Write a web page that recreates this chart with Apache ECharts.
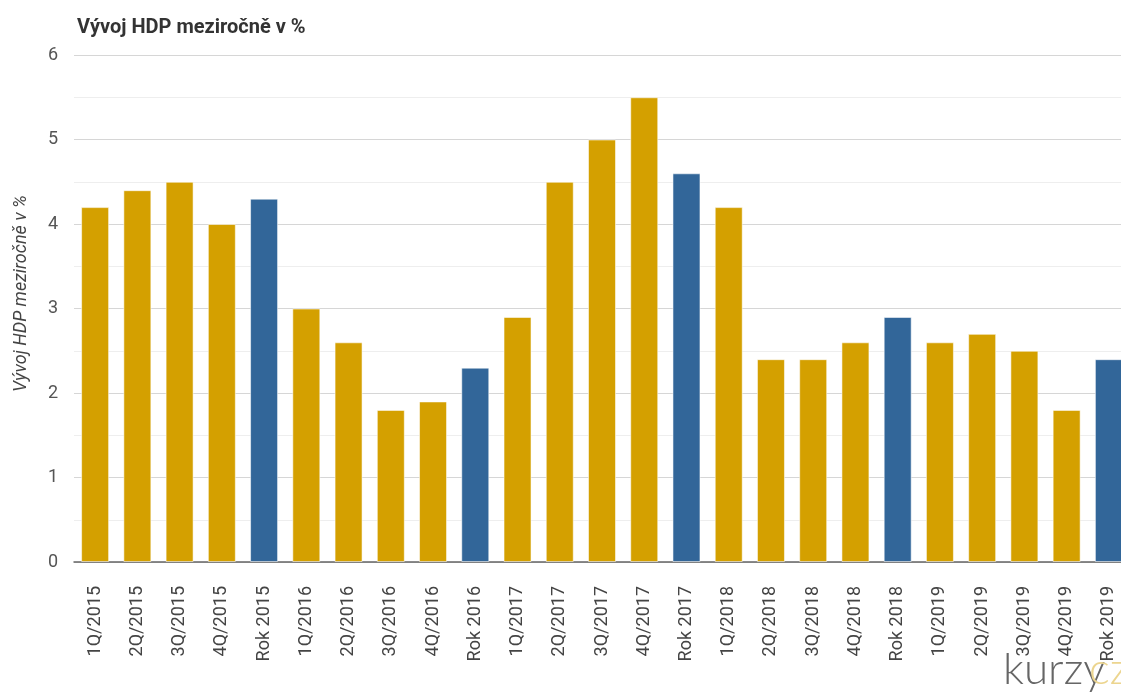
<!DOCTYPE html>
<html>
<head>
<meta charset="utf-8">
<script src="https://cdn.jsdelivr.net/npm/echarts@6/dist/echarts.min.js"></script>
<style>
  html, body { margin: 0; padding: 0; background: #fff; }
  #chart { width: 1121px; height: 693px; }
</style>
</head>
<body>
<div id="chart"></div>
<script>
var categories = [
    '1Q/2015', '2Q/2015', '3Q/2015', '4Q/2015', 'Rok 2015',
    '1Q/2016', '2Q/2016', '3Q/2016', '4Q/2016', 'Rok 2016',
    '1Q/2017', '2Q/2017', '3Q/2017', '4Q/2017', 'Rok 2017',
    '1Q/2018', '2Q/2018', '3Q/2018', '4Q/2018', 'Rok 2018',
    '1Q/2019', '2Q/2019', '3Q/2019', '4Q/2019', 'Rok 2019'
];
var values = [
    4.2, 4.4, 4.5, 4.0, 4.3,
    3.0, 2.6, 1.8, 1.9, 2.3,
    2.9, 4.5, 5.0, 5.5, 4.6,
    4.2, 2.4, 2.4, 2.6, 2.9,
    2.6, 2.7, 2.5, 1.8, 2.4
];
var titleText = 'Vývoj HDP meziročně v %';
var axisName = 'Vývoj HDP meziročně v %';

var quarterColor = '#d4a000';
var yearColor = '#326699';

var barData = values.map(function (v, i) {
    var isYear = categories[i].indexOf('Rok') === 0;
    return { value: v, itemStyle: { color: isYear ? yearColor : quarterColor } };
});

var chart = echarts.init(document.getElementById('chart'));

var option = {
    animation: false,
    textStyle: { fontFamily: 'Roboto, "Noto Sans", sans-serif' },
    title: {
        text: titleText,
        left: 72,
        top: 13,
        textStyle: { fontSize: 20, fontWeight: 'bold', color: '#333' }
    },
    graphic: [
        {
            type: 'text',
            left: 1003,
            top: 648,
            style: { text: 'kurzy', fontSize: 44, fontWeight: 300, fill: '#666', fontFamily: 'Lato, sans-serif' }
        },
        {
            type: 'text',
            left: 1089,
            top: 648,
            style: { text: 'cz', fontSize: 44, fontWeight: 300, fill: '#ecd58f', fontFamily: 'Lato, sans-serif' }
        }
    ],
    grid: {
        left: 74,
        top: 55,
        width: 1056,
        bottom: 131,
        outerBoundsMode: 'none',
        containLabel: false
    },
    xAxis: {
        type: 'category',
        data: categories,
        axisLine: { lineStyle: { color: '#666', width: 1.5 } },
        axisTick: { show: false },
        axisLabel: {
            rotate: 90,
            interval: 0,
            margin: 24,
            fontSize: 18,
            color: '#444'
        }
    },
    yAxis: {
        type: 'value',
        min: 0,
        max: 6,
        interval: 1,
        name: axisName,
        nameLocation: 'middle',
        nameGap: 44,
        nameTextStyle: { fontSize: 18, fontStyle: 'italic', color: '#444', padding: [0, 0, 0, 30] },
        axisLine: { show: false },
        axisTick: { show: false },
        axisLabel: { fontSize: 18, color: '#555', margin: 16 },
        splitLine: { lineStyle: { color: '#d6d6d6', width: 1 } },
        minorTick: { show: false, splitNumber: 2 },
        minorSplitLine: { show: true, lineStyle: { color: '#eeeeee', width: 1 } }
    },
    series: [
        {
            type: 'bar',
            data: barData,
            barWidth: 28,
            itemStyle: { borderColor: 'rgba(255,255,255,0.55)', borderWidth: 1 }
        }
    ]
};

option && chart.setOption(option);
</script>
</body>
</html>
